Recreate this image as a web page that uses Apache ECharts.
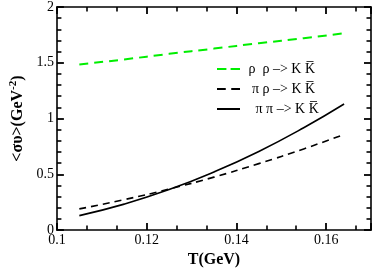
<!DOCTYPE html>
<html><head><meta charset="utf-8">
<script src="https://cdn.jsdelivr.net/npm/echarts@6/dist/echarts.min.js"></script>
<style>html,body{margin:0;padding:0;background:#fff}#c{width:374px;height:273px}</style>
</head><body><div id="c"></div>
<script>
const T = [0.105, 0.115, 0.125, 0.135, 0.145, 0.155, 0.164];
const rhoRho = [1.485, 1.53, 1.58, 1.627, 1.675, 1.72, 1.765];
const piRho = [0.19, 0.273, 0.368, 0.475, 0.596, 0.728, 0.858];
const piPi = [0.13, 0.233, 0.363, 0.521, 0.705, 0.917, 1.13];
const xTicks = [0.1, 0.12, 0.14, 0.16];
const yTicks = [0, 0.5, 1, 1.5, 2];
const names = ['\u03c1  \u03c1 \u2013> K K\u0305', '\u03c0 \u03c1 \u2013> K K\u0305', '\u03c0 \u03c0 \u2013> K K\u0305'];
const labels = [' \u03c1  \u03c1 \u2013> K K\u0305', '  \u03c0 \u03c1 \u2013> K K\u0305', '   \u03c0 \u03c0 \u2013> K K\u0305'];

const pts = a => T.map((t, i) => [t, a[i]]);
const font = 'Liberation Serif';
function mkAxis(extra, split) {
  return Object.assign({
    type: 'value',
    axisLine: {show: true, onZero: false, lineStyle: {color: '#000', width: 1.6}},
    splitLine: {show: false},
    axisTick: {show: true, inside: true, length: 7, lineStyle: {color: '#000', width: 1.8}},
    minorTick: {show: true, splitNumber: split, length: 4.5, lineStyle: {color: '#000', width: 1.6}},
  }, extra);
}
const dashIcon = 'path://M0,0h9v2h-9z M13,0h9v2h-9z';
const dashIcon2 = 'path://M0,0h8v2h-8z M13,0h8v2h-8z';
const solidIcon = 'path://M0,0h23v2h-23z';
const chart = echarts.init(document.getElementById('c'));
chart.setOption({
  animation: false,
  grid: {left: 45, right: 3, top: 6, bottom: 34},
  legend: {
    top: 57, left: 212, orient: 'vertical', itemGap: 6, itemWidth: 23, itemHeight: 14,
    textStyle: {fontFamily: font, fontSize: 14, color: '#000'},
    formatter: n => labels[names.indexOf(n)],
    data: [
      {name: names[0], icon: dashIcon},
      {name: names[1], icon: dashIcon2},
      {name: names[2], icon: solidIcon}
    ]
  },
  xAxis: [
    mkAxis({min: 0.1, max: 0.17, interval: 0.02,
      name: 'T(GeV)', nameLocation: 'middle', nameGap: 17,
      nameTextStyle: {fontFamily: font, fontWeight: 'bold', fontSize: 16, color: '#000'},
      axisLabel: {fontFamily: font, fontSize: 14, color: '#000', margin: 3,
        formatter: v => xTicks.some(t => Math.abs(t - v) < 1e-9) ? String(+v.toFixed(2)) : ''}}, 3),
    mkAxis({position: 'top', min: 0.1, max: 0.17, interval: 0.02, axisLabel: {show: false}}, 3)
  ],
  yAxis: [
    mkAxis({min: 0, max: 2, interval: 0.5,
      name: '{a|<\u03c3\u03c5>(GeV}{s|-2}{a|)}', nameLocation: 'middle', nameGap: 25,
      nameTextStyle: {rich: {
        a: {fontFamily: font, fontWeight: 'bold', fontSize: 16, color: '#000'},
        s: {fontFamily: font, fontWeight: 'bold', fontSize: 11, color: '#000', verticalAlign: 'top', padding: [0, 0, 8, 0]}}},
      axisLabel: {fontFamily: font, fontSize: 14, color: '#000', margin: 3,
        formatter: v => yTicks.includes(v) ? String(v) : ''}}, 5),
    mkAxis({position: 'right', min: 0, max: 2, interval: 0.5, axisLabel: {show: false}}, 5)
  ],
  series: [
    {name: names[0], type: 'line', data: pts(rhoRho), smooth: true, symbol: 'none',
      lineStyle: {color: '#00ee00', width: 2, type: [9, 6]}, itemStyle: {color: '#00ee00'}},
    {name: names[1], type: 'line', data: pts(piRho), smooth: true, symbol: 'none',
      lineStyle: {color: '#000', width: 1.6, type: [7, 5]}, itemStyle: {color: '#000'}},
    {name: names[2], type: 'line', data: pts(piPi), smooth: true, symbol: 'none',
      lineStyle: {color: '#000', width: 1.6}, itemStyle: {color: '#000'}}
  ]
});
</script></body></html>
